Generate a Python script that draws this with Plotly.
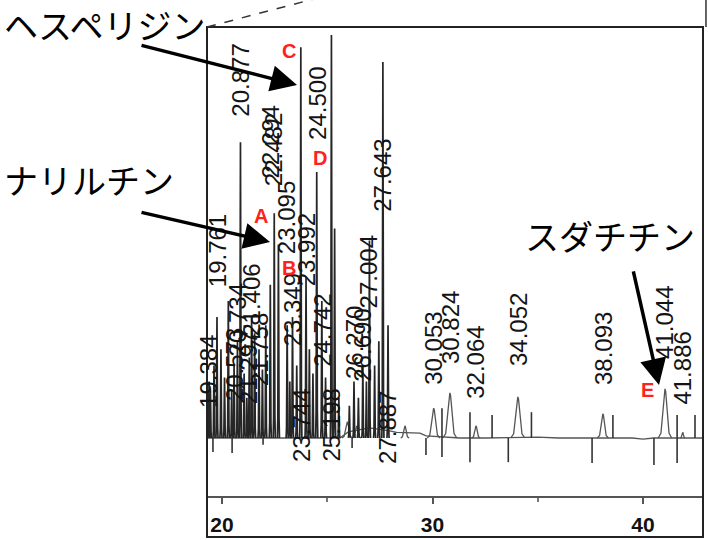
import plotly.graph_objects as go

# ---- retention-time labelled peaks (min) and their heights (signal units) ----
labeled_rt = [19.384, 19.761, 20.573, 20.734, 20.877, 21.297, 21.406, 21.758,
              22.294, 22.482, 23.095, 23.349, 23.744, 23.992, 24.500, 24.742,
              25.198, 26.270, 26.690, 27.004, 27.643, 27.887,
              30.053, 30.824, 32.064, 34.052, 38.093, 41.044, 41.886]
labeled_height = [14, 30, 18, 24, 73.4, 20, 30, 22,
                  38, 55.8, 28, 30, 97, 40, 66, 34,
                  100, 14, 18, 49, 93.3, 28,
                  7.4, 11.2, 3.0, 10.2, 6.0, 12.2, 1.4]
# half base width of each labelled peak (min)
labeled_halfwidth = [0.05] * 22 + [0.30, 0.33, 0.20, 0.33, 0.26, 0.32, 0.12]
# vertical centre of each printed retention-time label (signal units)
label_y = [16.4, 46.6, 18.1, 29.3, 88.8, 17.4, 34.2, 21.8,
           73.4, 71.5, 54.6, 31.8, 3.2, 46.6, 83.1, 26.8,
           3.2, 23.8, 23.1, 41.2, 65.3, 2.5,
           22.3, 27.5, 18.9, 27.0, 22.3, 28.8, 17.4]

# ---- unlabelled small peaks ----
minor_rt = [19.45, 19.62, 19.95, 20.12, 20.30, 20.46, 21.05, 21.18, 21.55,
            21.92, 22.08, 22.68, 23.22, 23.55, 24.15, 24.32, 24.92, 25.35,
            25.55, 26.05, 26.48, 26.86, 27.25, 27.45]
minor_height = [12, 18, 22, 15, 34, 12, 16, 10, 26,
                17, 28, 48, 14, 18, 22, 16, 15, 52,
                10, 8, 10, 14, 18, 24]

# broad low humps on the baseline
hump_rt = [25.95, 26.40, 28.69]
hump_height = [4.0, 3.0, 3.0]
hump_halfwidth = [0.25, 0.2, 0.2]

# baseline drift
baseline_t = [19.29, 25.6, 26.0, 27.0, 27.9, 28.3, 29.4, 29.7, 31.3, 32.5,
              35.0, 36.0, 39.5, 40.0, 40.5, 42.85]
baseline_y = [0, 0, 1.5, 2.5, 1.8, 1.4, 1.2, 0.5, 0, 0,
              0.2, 0, 0, -0.3, 0, 0]

# integration event marks: time, upper end, lower end
mark_t = [19.57, 20.48, 21.95, 26.18, 29.69, 30.45, 31.78, 32.83,
          33.60, 34.70, 37.58, 38.57, 40.52, 41.62, 42.47]
mark_top = [0, 0, 0, 0, 0, 7.4, 6.4, 5.7, 0, 6.4, 0, 5.7, 0, 5.7, 5.7]
mark_bot = [-3.5, -3.7, -1.7, -2.5, -4.2, -4.7, -6.0, 0,
            -6.0, 0, -6.2, 0, -6.7, -6.2, 0]

x_ticks = [20, 30, 40]

# peak outline template (relative offset, relative height)
shape_dx = [-1, -0.6, -0.3, -0.1, 0, 0.1, 0.3, 0.6, 1]
shape_rel = [0, 0.1, 0.55, 0.95, 1, 0.95, 0.55, 0.1, 0]


def peak_path(rts, heights, halfwidths):
    xs, ys = [], []
    for rt, h, w in zip(rts, heights, halfwidths):
        for dx, r in zip(shape_dx, shape_rel):
            xs.append(rt + dx * w)
            ys.append(h * r)
        xs.append(None)
        ys.append(None)
    return xs, ys


spike_idx = [i for i, rt in enumerate(labeled_rt) if rt < 28.5]
late_idx = [i for i, rt in enumerate(labeled_rt) if rt >= 28.5]

sx, sy = peak_path([labeled_rt[i] for i in spike_idx] + minor_rt,
                   [labeled_height[i] for i in spike_idx] + minor_height,
                   [labeled_halfwidth[i] for i in spike_idx] + [0.05] * len(minor_rt))
lx, ly = peak_path([labeled_rt[i] for i in late_idx] + hump_rt,
                   [labeled_height[i] for i in late_idx] + hump_height,
                   [labeled_halfwidth[i] for i in late_idx] + hump_halfwidth)

mx, my = [], []
for t, a, b in zip(mark_t, mark_top, mark_bot):
    mx += [t, t, None]
    my += [a, b, None]

fig = go.Figure()
fig.add_trace(go.Scatter(x=baseline_t, y=baseline_y, mode="lines",
                         line=dict(color="#555555", width=1.3), hoverinfo="skip"))
fig.add_trace(go.Scatter(x=lx, y=ly, mode="lines",
                         line=dict(color="#555555", width=1.3), hoverinfo="skip"))
fig.add_trace(go.Scatter(x=sx, y=sy, mode="lines",
                         line=dict(color="#262626", width=1.7), hoverinfo="skip"))
fig.add_trace(go.Scatter(x=mx, y=my, mode="lines",
                         line=dict(color="#333333", width=1.6), hoverinfo="skip"))

# retention-time labels, printed vertically
for rt, yy in zip(labeled_rt, label_y):
    fig.add_annotation(x=rt, y=yy, xref="x", yref="y", text=f"{rt:.3f}",
                       textangle=-90, showarrow=False,
                       xanchor="center", yanchor="middle",
                       font=dict(family="Liberation Sans", size=24, color="#141414"))

# peak letters
letters = [("A", 0.1089, 0.597), ("B", 0.1653, 0.4861), ("C", 0.1653, 0.9488),
           ("D", 0.2278, 0.7207), ("E", 0.8871, 0.2260)]
for txt, px, py in letters:
    fig.add_annotation(x=px, y=py, xref="paper", yref="paper", text=txt,
                       showarrow=False, xanchor="center", yanchor="middle",
                       font=dict(family="Liberation Sans", size=20,
                                 color="#ff2020", weight="bold"))

# compound names
jp_font = dict(family="Noto Sans CJK JP", size=34, color="#000000")
names = [("ヘスペリジン", -0.2057, 1.0597, "top"),
         ("ナリルチン", -0.2379, 0.6745, "middle"),
         ("スダチチン", 0.8125, 0.5561, "middle")]
for txt, px, py, ya in names:
    fig.add_annotation(x=px, y=py, xref="paper", yref="paper", text=txt,
                       showarrow=False, xanchor="center", yanchor=ya,
                       borderpad=0, font=jp_font)

# arrows from names to peaks
arrows = [(0.1815, 0.8763, -157, -40), (0.127, 0.5416, -130, -30),
          (0.9113, 0.2367, -26, -115)]
for px, py, ax, ay in arrows:
    fig.add_annotation(x=px, y=py, xref="paper", yref="paper", text="",
                       showarrow=True, ax=ax, ay=ay, arrowhead=2,
                       arrowsize=1.5, arrowwidth=3.5, arrowcolor="#000000",
                       standoff=0)

# outer frame and zoom connector lines
fig.add_shape(type="rect", xref="paper", yref="paper", x0=0, x1=1,
              y0=-0.0874, y1=1, line=dict(color="#222222", width=2))
fig.add_shape(type="line", xref="paper", yref="paper", x0=0, y0=1,
              x1=0.2460, y1=1.0682, line=dict(color="#333333", width=1.5, dash="dash"))
fig.add_shape(type="line", xref="paper", yref="paper", x0=1.006, y0=1,
              x1=1.006, y1=1.07, line=dict(color="#333333", width=1.5))

fig.update_layout(
    width=708, height=540,
    margin=dict(l=207, r=5, t=27, b=44),
    paper_bgcolor="white", plot_bgcolor="white",
    showlegend=False,
    xaxis=dict(range=[19.287, 42.85], tickvals=x_ticks,
               ticktext=[str(v) for v in x_ticks],
               automargin=False,
               showgrid=False, zeroline=False, showline=True,
               linecolor="#555555", linewidth=2,
               ticks="outside", ticklen=6, tickwidth=1.5, tickcolor="#555555",
               minor=dict(dtick=5, ticks="outside", ticklen=4, tickcolor="#777777"),
               ticklabelstandoff=3,
               tickfont=dict(family="Liberation Sans", size=21, color="#111111",
                             weight="bold")),
    yaxis=dict(range=[-14.4, 102], visible=False, automargin=False),
)

fig.write_html("out.html")
